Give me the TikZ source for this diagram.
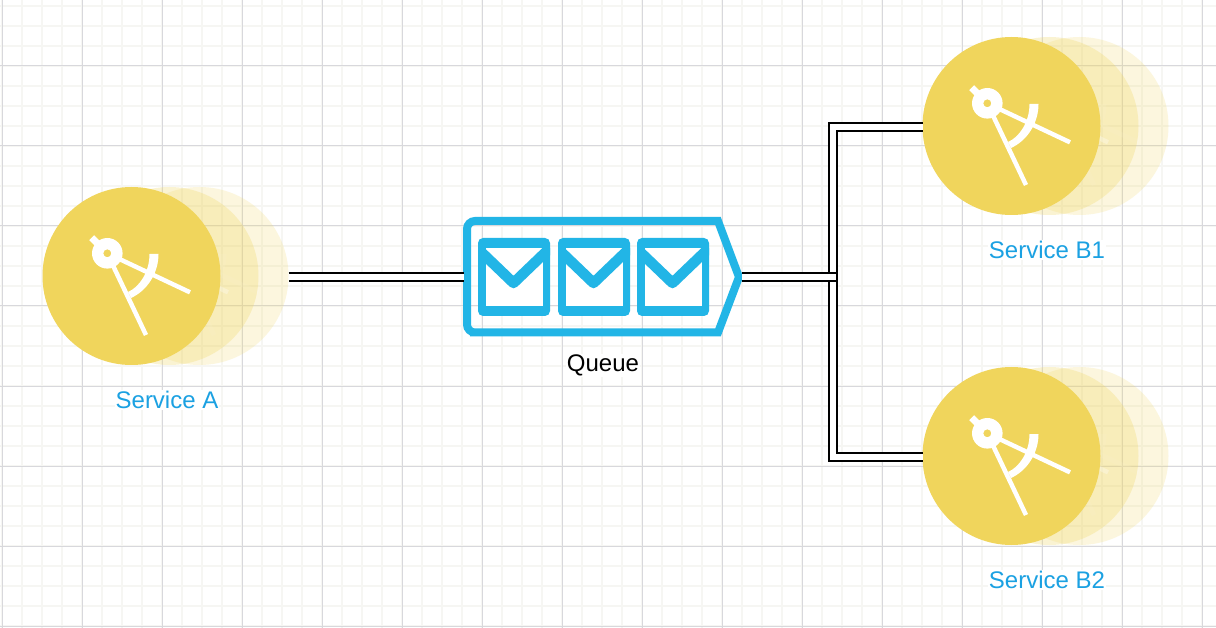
\documentclass[tikz,border=0pt]{standalone}
\usepackage{fontspec}
\setmainfont{Liberation Sans}
\definecolor{msgblue}{HTML}{22B5E6}
\definecolor{svcblue}{HTML}{1BA1E2}
\definecolor{svcgold}{HTML}{F0D55C}
\definecolor{minorgrid}{HTML}{F6F6F3}
\definecolor{majorgrid}{HTML}{D8D8DC}
\tikzstyle{svc}=[shape=circle, minimum size=178pt, inner sep=0, outer sep=0, fill=svcgold]
\tikzstyle{lbl}=[font=\fontsize{24}{28}\selectfont, fill=white, inner sep=1pt]
\tikzstyle{link}=[draw=black, line width=2pt, double=white, double distance=6pt]
\newcommand{\compassicon}[3]{
\begin{scope}[shift={(#1,#2)}, opacity=#3]
\fill[white, even odd rule] (-24.2,-22.7) circle (15.3) (-24.2,-22.7) circle (4);
\draw[white, line width=7pt] (-32,-30.5)--(-39.8,-38.3);
\draw[white, line width=4.5pt] (-19,-11.5)--(14.5,59);
\draw[white, line width=4.5pt] (-13,-17.4)--(58.5,16.3);
\fill[white] (27,-22) .. controls (27,-2) and (15,15) .. (-.5,22)--(-3.5,16) .. controls (8,11) and (18,-4) .. (18,-22)--cycle;
\end{scope}}
\begin{document}
\begin{tikzpicture}[x=1pt, y=-1pt]
\useasboundingbox (0,0) rectangle (1216,628);
\fill[white] (0,0) rectangle (1216,628);
\foreach \x in {2,22,...,1202} {\draw[minorgrid, line width=1.6pt] (\x,0)--(\x,628);}
\foreach \y in {6,26,...,626} {\draw[minorgrid, line width=1.6pt] (0,\y)--(1216,\y);}
\foreach \x in {2,82,...,1202} {\draw[majorgrid, line width=1pt] (\x,0)--(\x,628);}
\foreach \y in {66,146,...,626} {\draw[majorgrid, line width=1pt] (0,\y)--(1216,\y);}
% services
\foreach \nm/\cx/\cy/\lab in {A/131.5/276/Service A, Bi/1011.5/126/Service B1, Bii/1011.5/456/Service B2} {
\node at (\cx+68,\cy)[svc, opacity=.2](\nm far){};
\compassicon{\cx+68}{\cy}{.15}
\node at (\cx+38,\cy)[svc, opacity=.27](\nm near){};
\compassicon{\cx+38}{\cy}{.3}
\node at (\cx,\cy)[svc](\nm){};
\compassicon{\cx}{\cy}{1}
\node at (\cx+35.5,\cy+124)[lbl, text=svcblue](\nm lbl){\lab};
}
% queue
\node at (603,277)[minimum width=278pt, minimum height=120pt, inner sep=0, outer sep=0](queue){};
\draw[msgblue, line width=8pt, miter limit=10] (478,221) [rounded corners=8pt] -- (467,221) -- (467,332.5) -- (478,332.5) [rounded corners=0pt] -- (718,332.5) -- (739,277) -- (718,221) -- cycle;
\foreach \x in {478,558,637} {
\begin{scope}[shift={(\x,0)}]
\fill[msgblue, rounded corners=5pt] (0,238) rectangle (72,316);
\fill[white] (7.5,248) rectangle (64.5,306);
\begin{scope}
\clip (0,243) rectangle (72,316);
\draw[msgblue, line width=10.5pt, line join=round] (-1,248)--(35.5,283)--(72,248);
\end{scope}
\end{scope}
}
\node at (603,364)[lbl, yshift=-1.5pt](queue lbl){Queue};
% connectors
\coordinate (trunk) at (833,277);
\coordinate (tee) at (836,277);
\coordinate[yshift=-1pt] (Bi in) at (Bi.west);
\coordinate[yshift=-1pt] (Bii in) at (Bii.west);
\draw[link] (Afar.east |- queue.west)--(queue.west);
\draw[link] (Bi in) -| (trunk) |- (Bii in);
\draw[link] (queue.east)--(tee);
\end{tikzpicture}
\end{document}
